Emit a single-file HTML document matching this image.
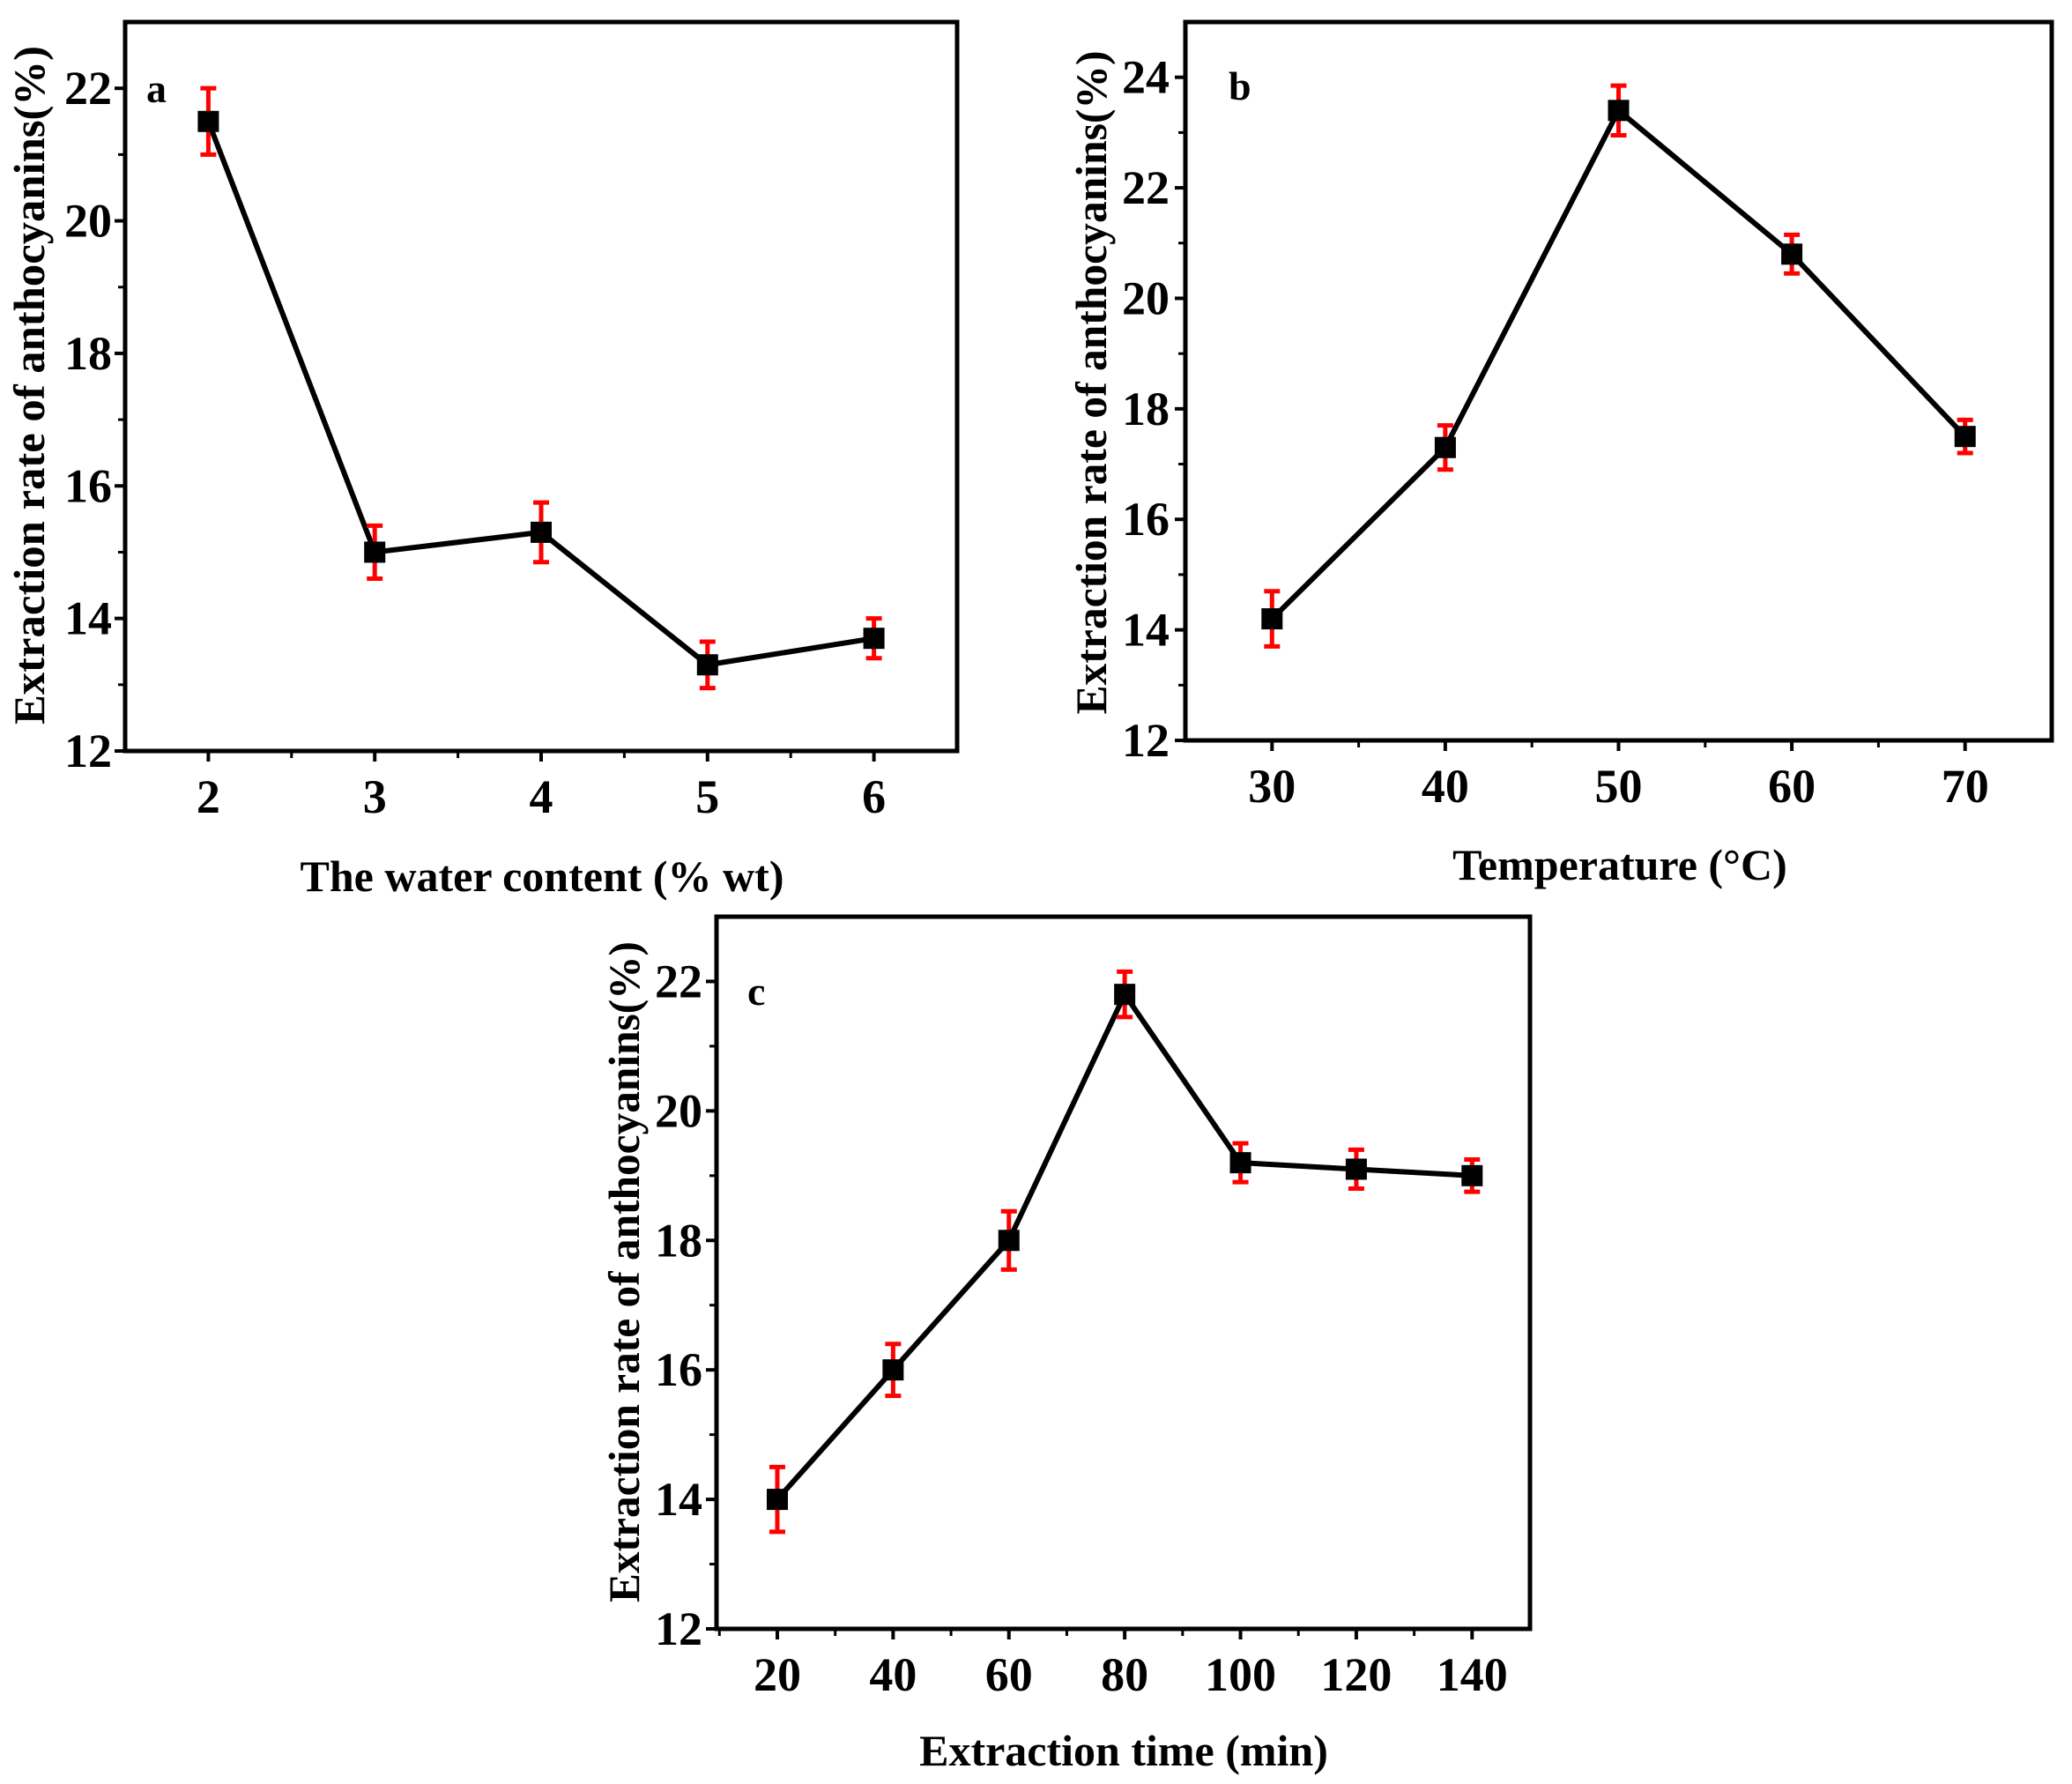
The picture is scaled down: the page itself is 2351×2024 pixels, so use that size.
<!DOCTYPE html>
<html><head><meta charset="utf-8"><style>
html,body{margin:0;padding:0;background:#fff;}
svg{display:block;}
text{font-family:"Liberation Serif",serif;font-weight:bold;fill:#000;}
</style></head><body>
<svg id="fig" width="2351" height="2024" viewBox="0 0 2351 2024" xmlns="http://www.w3.org/2000/svg"></svg>
<script>
const aX=[2,3,4,5,6];
const aY=[21.5,15.0,15.3,13.3,13.7];
const aErr=[0.5,0.4,0.45,0.35,0.3];
const aXTicks=[2,3,4,5,6];
const aYTicks=[12,14,16,18,20,22];
const bX=[30,40,50,60,70];
const bY=[14.2,17.3,23.4,20.8,17.5];
const bErr=[0.5,0.4,0.45,0.35,0.3];
const bXTicks=[30,40,50,60,70];
const bYTicks=[12,14,16,18,20,22,24];
const cX=[20,40,60,80,100,120,140];
const cY=[14.0,16.0,18.0,21.8,19.2,19.1,19.0];
const cErr=[0.5,0.4,0.45,0.35,0.3,0.3,0.25];
const cXTicks=[20,40,60,80,100,120,140];
const cYTicks=[12,14,16,18,20,22];

const NS="http://www.w3.org/2000/svg";
const svg=document.getElementById('fig');
function mk(tag,attrs,parent){const e=document.createElementNS(NS,tag);for(const k in attrs)e.setAttribute(k,attrs[k]);(parent||svg).appendChild(e);return e;}

function panel(cfg){
  const g=mk('g',{});
  
  
  const {L,T,R,B,x0,x1,y0,y1}=cfg;
  const sx=v=>L+(v-x0)/(x1-x0)*(R-L);
  const sy=v=>B-(v-y0)/(y1-y0)*(B-T);
  const fr=mk('rect',{x:L,y:T,width:R-L,height:B-T,fill:'none',stroke:'#000','stroke-width':5},g);
  
  
  cfg.xt.forEach((v,i)=>{
    const x=sx(v);
    const t=mk('line',{x1:x,x2:x,y1:B,y2:B+12,stroke:'#000','stroke-width':4},g);
    
    
    const lb=mk('text',{x:x,y:cfg.xlY,'font-size':54,'text-anchor':'middle'},g);
    lb.textContent=v;
    
    
    if(i<cfg.xt.length-1){const mx=sx((v+cfg.xt[i+1])/2);mk('line',{x1:mx,x2:mx,y1:B,y2:B+8,stroke:'#000','stroke-width':3},g);}
  });
  const step=cfg.xt[1]-cfg.xt[0];
  [cfg.xt[0]-step/2,cfg.xt[cfg.xt.length-1]+step/2].forEach(v=>{if(v>x0&&v<x1){const mx=sx(v);mk('line',{x1:mx,x2:mx,y1:B,y2:B+8,stroke:'#000','stroke-width':3},g);}});
  cfg.yt.forEach((v,i)=>{
    const y=sy(v);
    const t=mk('line',{x1:L-12,x2:L,y1:y,y2:y,stroke:'#000','stroke-width':4},g);
    
    
    const lb=mk('text',{x:cfg.ylX,y:y+18,'font-size':54,'text-anchor':'end'},g);
    lb.textContent=v;
    
    
    const my=sy(v+1);if(my>T+3)mk('line',{x1:L-8,x2:L,y1:my,y2:my,stroke:'#000','stroke-width':3},g);
  });
  const pts=cfg.xs.map((v,i)=>sx(v)+','+sy(cfg.ys[i])).join(' ');
  const pl=mk('polyline',{points:pts,fill:'none',stroke:'#000','stroke-width':6,'stroke-linejoin':'round'},g);
  
  
  cfg.xs.forEach((v,i)=>{
    const x=sx(v),yt=sy(cfg.ys[i]+cfg.err[i]),yb=sy(cfg.ys[i]-cfg.err[i]),y=sy(cfg.ys[i]);
    const eg=mk('g',{stroke:'#f00','stroke-width':5},g);
    
    
    mk('line',{x1:x,x2:x,y1:yt,y2:yb},eg);
    mk('line',{x1:x-9,x2:x+9,y1:yt,y2:yt},eg);
    mk('line',{x1:x-9,x2:x+9,y1:yb,y2:yb},eg);
    const m=mk('rect',{x:x-12,y:y-12,width:24,height:24,fill:'#000'},g);
    
    
  });
  const xt=mk('text',{x:cfg.xtX,y:cfg.xtY,'font-size':50,'text-anchor':'middle'},g);
  xt.textContent=cfg.xtitle;
  
  
  const yt=mk('text',{x:0,y:0,'font-size':50,'text-anchor':'middle',transform:`translate(${cfg.ytX},${cfg.ytY}) rotate(-90)`,textLength:cfg.ytLen,lengthAdjust:'spacingAndGlyphs'},g);
  yt.textContent='Extraction rate of anthocyanins(%)';
  
  
  const pl2=mk('text',{x:cfg.lx,y:cfg.ly,'font-size':46},g);
  pl2.textContent=cfg.label;
  
  
}

panel({name:'panel-a',L:142,T:25,R:1086,B:852,x0:1.5,x1:6.5,y0:12,y1:23,xt:aXTicks,yt:aYTicks,xs:aX,ys:aY,err:aErr,
  xlY:922,ylX:127,xtX:615,xtY:1011,xtitle:'The water content (% wt)',ytX:50,ytY:437,ytLen:770,lx:166,ly:116,label:'a'});
panel({name:'panel-b',L:1345,T:25,R:2328,B:840,x0:25,x1:75,y0:12,y1:25,xt:bXTicks,yt:bYTicks,xs:bX,ys:bY,err:bErr,
  xlY:910,ylX:1327,xtX:1838,xtY:998,xtitle:'Temperature (°C)',ytX:1255,ytY:434,ytLen:753,lx:1394,ly:113,label:'b'});
panel({name:'panel-c',L:813,T:1040,R:1736,B:1848,x0:9.5,x1:150,y0:12,y1:23,xt:cXTicks,yt:cYTicks,xs:cX,ys:cY,err:cErr,
  xlY:1918,ylX:797,xtX:1275,xtY:2003,xtitle:'Extraction time (min)',ytX:725,ytY:1443,ytLen:750,lx:848,ly:1140,label:'c'});
</script>
</body></html>
